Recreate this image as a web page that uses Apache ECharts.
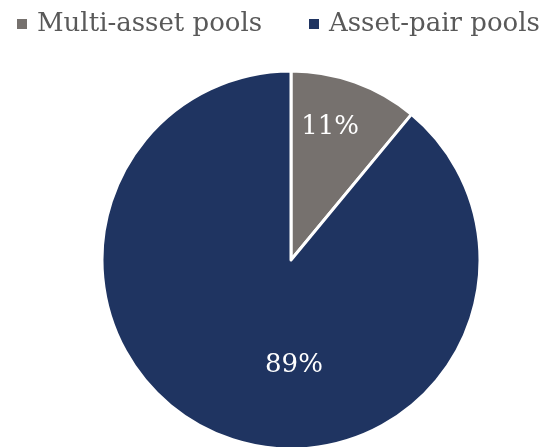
<!DOCTYPE html>
<html>
<head>
<meta charset="utf-8">
<script src="https://cdn.jsdelivr.net/npm/echarts@6/dist/echarts.min.js"></script>
<style>
  html, body { margin: 0; padding: 0; background: #ffffff; }
  #chart { width: 544px; height: 447px; }
</style>
</head>
<body>
<div id="chart"></div>
<script>
// Share of liquidity by pool type
const categories = ['Multi-asset pools', 'Asset-pair pools'];
const shares = [11, 89];
const colors = ['#76716e', '#1f3461'];

// Horizontal start of each legend entry
const legendLeft = [10, 302];

// Nudges for the in-slice percentage labels
const labelShift = [[6, -41], [36, 14]];

const chart = echarts.init(document.getElementById('chart'), null, { renderer: 'canvas' });

const legendStyle = {
  top: 6,
  itemWidth: 12,
  itemHeight: 12,
  icon: 'rect',
  textStyle: { fontFamily: 'DejaVu Serif', fontSize: 26, color: '#595959', padding: [0, 0, 0, 4] }
};

chart.setOption({
  animation: false,
  color: colors,
  legend: categories.map((name, i) => Object.assign({}, legendStyle, {
    data: [name],
    left: legendLeft[i]
  })),
  series: [{
    type: 'pie',
    center: [291, 260],
    radius: 189,
    startAngle: 90,
    clockwise: true,
    silent: true,
    itemStyle: { borderColor: '#ffffff', borderWidth: 3 },
    label: {
      show: true,
      position: 'inside',
      formatter: '{c}%',
      fontFamily: 'DejaVu Serif',
      fontSize: 26,
      color: '#ffffff'
    },
    labelLine: { show: false },
    labelLayout: function (p) {
      const s = labelShift[p.dataIndex];
      return { dx: s[0], dy: s[1] };
    },
    data: categories.map((name, i) => ({ name: name, value: shares[i] }))
  }]
});
</script>
</body>
</html>
